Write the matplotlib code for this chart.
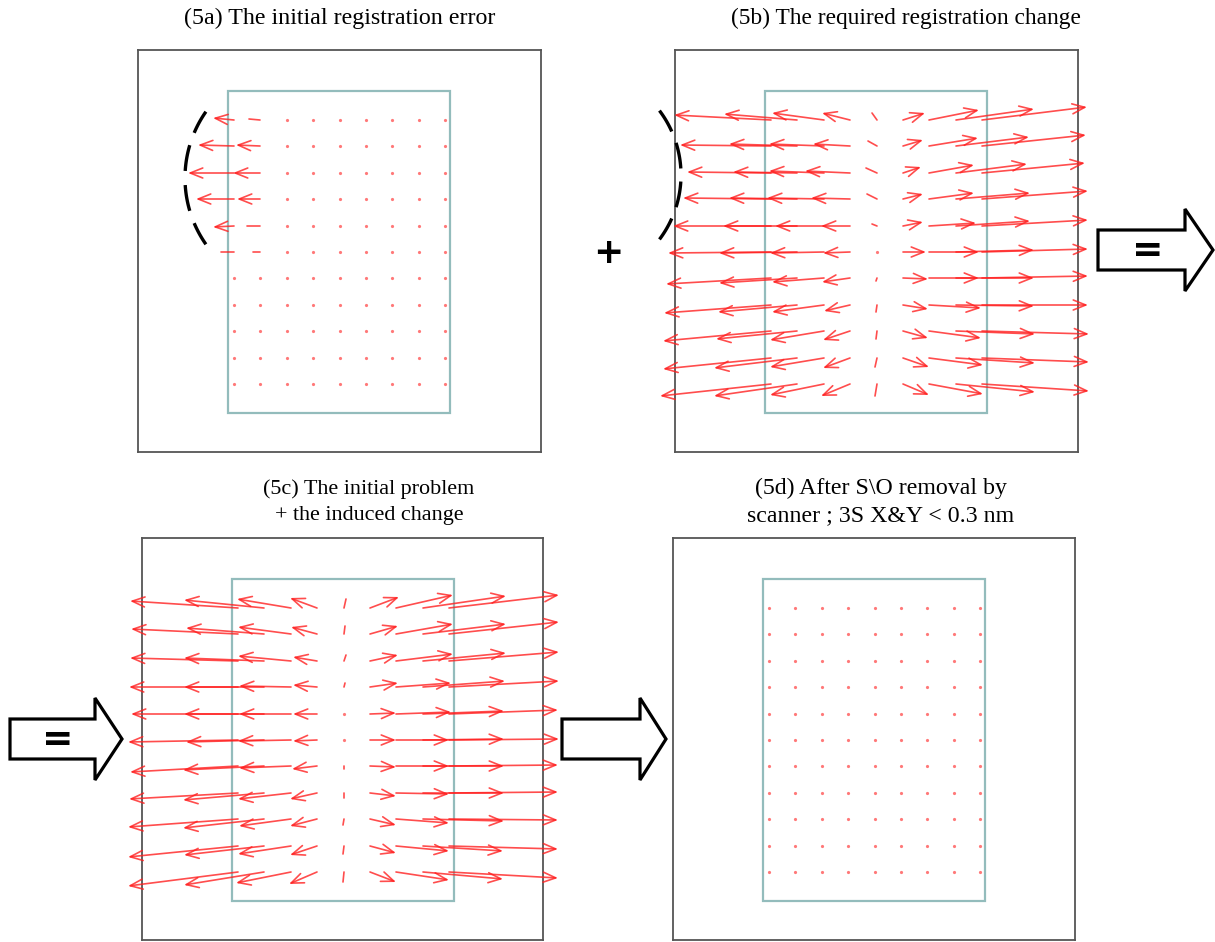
import matplotlib
matplotlib.use("Agg")
import matplotlib.pyplot as plt
import numpy as np
from matplotlib.patches import Rectangle, FancyArrow

# Field layout inside the exposure frame (frame units, origin top-left)
field_x = [96, 122, 149, 175, 202, 228, 254, 281, 307]
field_y = [70, 96, 123, 149, 176, 202, 228, 255, 281, 308, 334]

# (5a) initial registration error
a_dx = [
    [-21, -11, 0, 0, 0, 0, 0, 0, 0],
    [-36, -24, 0, 0, 0, 0, 0, 0, 0],
    [-46, -27, 0, 0, 0, 0, 0, 0, 0],
    [-38, -23, 0, 0, 0, 0, 0, 0, 0],
    [-21, -13, 0, 0, 0, 0, 0, 0, 0],
    [-13, -7, 0, 0, 0, 0, 0, 0, 0],
    [0, 0, 0, 0, 0, 0, 0, 0, 0],
    [0, 0, 0, 0, 0, 0, 0, 0, 0],
    [0, 0, 0, 0, 0, 0, 0, 0, 0],
    [0, 0, 0, 0, 0, 0, 0, 0, 0],
    [0, 0, 0, 0, 0, 0, 0, 0, 0],
]
a_dy = [
    [-2, -1, 0, 0, 0, 0, 0, 0, 0],
    [-1, -1, 0, 0, 0, 0, 0, 0, 0],
    [0, 0, 0, 0, 0, 0, 0, 0, 0],
    [0, 0, 0, 0, 0, 0, 0, 0, 0],
    [1, 0, 0, 0, 0, 0, 0, 0, 0],
    [0, 0, 0, 0, 0, 0, 0, 0, 0],
    [0, 0, 0, 0, 0, 0, 0, 0, 0],
    [0, 0, 0, 0, 0, 0, 0, 0, 0],
    [0, 0, 0, 0, 0, 0, 0, 0, 0],
    [0, 0, 0, 0, 0, 0, 0, 0, 0],
    [0, 0, 0, 0, 0, 0, 0, 0, 0],
]

# (5b) required registration change
b_dx = [
    [-97, -73, -52, -28, -5, 22, 50, 78, 105],
    [-91, -68, -55, -37, -9, 20, 49, 73, 104],
    [-84, -64, -55, -45, -11, 18, 45, 71, 103],
    [-88, -68, -57, -39, -10, 20, 45, 74, 106],
    [-98, -74, -49, -29, -5, 20, 47, 74, 106],
    [-103, -78, -54, -27, -1, 23, 50, 78, 106],
    [-105, -78, -52, -28, -1, 25, 50, 78, 106],
    [-107, -79, -52, -26, -1, 25, 52, 78, 106],
    [-108, -81, -54, -27, -1, 25, 52, 79, 107],
    [-108, -83, -54, -27, -2, 26, 54, 79, 107],
    [-111, -83, -54, -29, -2, 26, 54, 79, 107],
]
b_dy = [
    [-5, -6, -7, -7, -7, -7, -10, -11, -13],
    [-1, -2, -2, -2, -5, -6, -8, -9, -11],
    [-1, -1, -2, -2, -5, -6, -8, -9, -10],
    [-1, -1, -1, -1, -5, -5, -6, -6, -8],
    [0, 0, 0, 0, -2, -4, -3, -5, -6],
    [1, 1, 1, 1, 0, 0, 0, -2, -3],
    [6, 5, 4, 4, 3, 1, 0, 0, -2],
    [8, 7, 7, 6, 7, 4, 3, 1, 0],
    [10, 8, 9, 9, 8, 7, 7, 3, 3],
    [11, 10, 9, 10, 9, 9, 7, 5, 4],
    [12, 12, 11, 12, 12, 11, 10, 8, 7],
]

# (5c) initial problem + induced change
c_dx = [
    [-108, -80, -54, -27, 2, 29, 57, 83, 110],
    [-107, -78, -53, -26, 1, 28, 57, 83, 110],
    [-108, -80, -53, -24, 2, 28, 57, 83, 110],
    [-109, -80, -52, -24, 1, 28, 55, 82, 110],
    [-107, -80, -52, -24, 0, 26, 55, 81, 109],
    [-110, -78, -53, -24, 0, 26, 53, 81, 110],
    [-108, -81, -52, -25, 0, 26, 53, 81, 109],
    [-109, -81, -53, -27, 0, 26, 53, 81, 109],
    [-110, -81, -52, -27, -1, 26, 53, 81, 109],
    [-110, -80, -53, -27, -1, 26, 53, 80, 109],
    [-110, -80, -55, -28, -1, 26, 53, 80, 109],
]
c_dy = [
    [-7, -8, -9, -10, -9, -11, -13, -12, -13],
    [-5, -6, -7, -7, -8, -8, -10, -10, -12],
    [-3, -3, -5, -4, -6, -6, -7, -8, -9],
    [0, 0, -1, -2, -4, -4, -4, -6, -6],
    [0, 0, 0, 0, -1, -1, -2, -3, -4],
    [2, 2, 1, 1, 0, 0, 0, -1, -1],
    [6, 4, 2, 3, 3, 1, 0, 0, -1],
    [6, 7, 6, 6, 5, 3, 1, 0, -1],
    [8, 9, 7, 7, 6, 6, 4, 2, 1],
    [11, 9, 8, 9, 8, 7, 5, 5, 3],
    [14, 13, 11, 12, 10, 10, 8, 7, 6],
]

# (5d) residual after S\O removal (below plotting resolution)
d_dx = [[0] * 9 for _ in field_y]
d_dy = [[0] * 9 for _ in field_y]

titles = [
    "(5a) The initial registration error",
    "(5b) The required registration change",
    "(5c) The initial problem\n+ the induced change",
    "(5d) After S\\O removal by\nscanner ; 3S X&Y < 0.3 nm",
]

RED = "#ff2020"
W, H = 1215, 942


def draw_field(ax, dx, dy):
    for j, y in enumerate(field_y):
        for i, x in enumerate(field_x):
            u, v = dx[j][i], dy[j][i]
            n = np.hypot(u, v)
            if n < 3:
                ax.plot(x, y, "o", ms=2.3, color=RED, alpha=0.6, mec="none")
                continue
            style = "->,head_length=0.9,head_width=0.36" if n > 14 else "-"
            ax.annotate("", xy=(x + u, y + v), xytext=(x, y),
                        annotation_clip=False,
                        arrowprops=dict(arrowstyle=style, color=RED, lw=1.2,
                                        alpha=0.8, shrinkA=0, shrinkB=0,
                                        mutation_scale=10))


def dashed_arc(ax, center, radius, segments):
    # one stroke per dash, angles in degrees (y axis points down)
    for t1, t2 in segments:
        t = np.radians(np.linspace(t1, t2, 30))
        ax.plot(center[0] + radius * np.cos(t), center[1] + radius * np.sin(t),
                color="black", lw=2.4, solid_capstyle="butt",
                clip_on=False, zorder=4)


fig = plt.figure(figsize=(W / 100, H / 100), dpi=100)

# outer frames in pixels: left, top, right, bottom
frames = [(138, 50, 541, 452), (675, 50, 1078, 452),
          (142, 538, 543, 940), (673, 538, 1075, 940)]
fields = [(a_dx, a_dy), (b_dx, b_dy), (c_dx, c_dy), (d_dx, d_dy)]

axes = []
for (l, t, r, b), (dx, dy) in zip(frames, fields):
    ax = fig.add_axes([l / W, 1 - b / H, (r - l) / W, (b - t) / H])
    ax.set_xlim(0, r - l)
    ax.set_ylim(b - t, 0)
    ax.set_xticks([])
    ax.set_yticks([])
    for s in ax.spines.values():
        s.set_color("#555555")
        s.set_linewidth(1.3)
    ax.add_patch(Rectangle((90, 41), 222, 322, fill=False,
                           ec="#93bcbc", lw=1.6, zorder=1))
    draw_field(ax, dx, dy)
    axes.append(ax)

# dashed outline of the distorted edge
dashed_arc(axes[0], (162.6, 128), 115.6,
           [(145, 157), (163.5, 176.5), (183.5, 196.5), (203, 215)])
dashed_arc(axes[1], (-101, 125), 107,
           [(-37, -24), (-17.5, -3.5), (3.5, 17.5), (24, 37)])

# titles
tfont = dict(family="Liberation Serif", ha="center", va="center")
fig.text(340 / W, 1 - 18 / H, titles[0], size=17.3, **tfont)
fig.text(906 / W, 1 - 18 / H, titles[1], size=16.8, **tfont)
fig.text(369 / W, 1 - 502 / H, titles[2], size=15.9, linespacing=1.55, **tfont)
fig.text(881 / W, 1 - 502 / H, titles[3], size=17.2, linespacing=1.36, **tfont)

# overlay for block arrows and operators, in pixel coordinates
ov = fig.add_axes([0, 0, 1, 1], zorder=5)
ov.set_xlim(0, W)
ov.set_ylim(H, 0)
ov.axis("off")
ov.patch.set_alpha(0)

block = dict(width=40, head_width=82, length_includes_head=True,
             fc="white", ec="black", lw=2.3, joinstyle="miter")
ov.add_patch(FancyArrow(1098, 250, 115, 0, head_length=28, **block))
ov.add_patch(FancyArrow(10, 739, 112, 0, head_length=27, **block))
ov.add_patch(FancyArrow(562, 739, 104, 0, head_length=26, **block))

sym = dict(fontsize=27, fontweight="bold", ha="center", va="center",
           family="DejaVu Sans")
ov.text(1148, 251, "=", **sym)
ov.text(58, 740, "=", **sym)
ov.text(608, 253, "+", **dict(sym, fontsize=26))

fig.savefig("out.png", dpi=100)
